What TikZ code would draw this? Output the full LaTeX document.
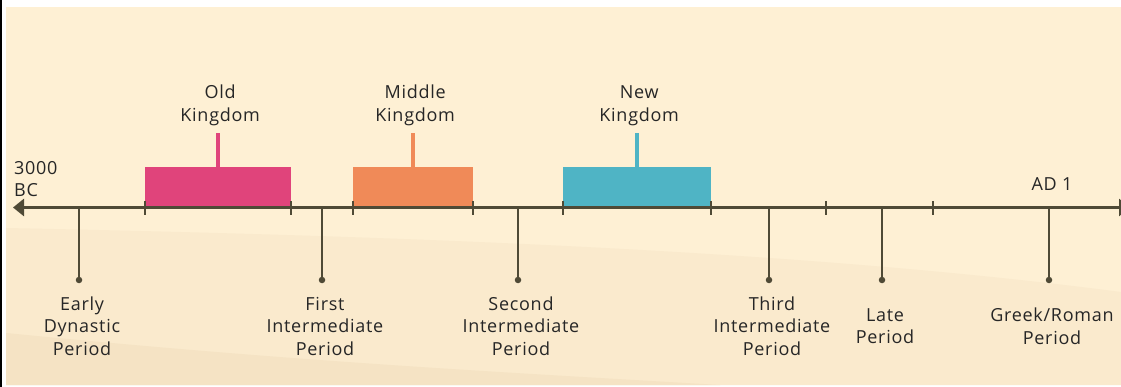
\documentclass[tikz,border=0pt]{standalone}
\usepackage{fontspec}
\setmainfont{Open Sans}[LetterSpace=4]
\usetikzlibrary{positioning,arrows.meta}
\definecolor{paper}{HTML}{FEF0D4}
\definecolor{sand}{HTML}{FAEACD}
\definecolor{dune}{HTML}{F5E3C4}
\definecolor{axisbrown}{HTML}{4F4A36}
\definecolor{oldpink}{HTML}{E0447B}
\definecolor{midorange}{HTML}{F08A58}
\definecolor{newblue}{HTML}{4FB4C5}
\tikzset{
  txt/.style={inner sep=0pt,font=\fontsize{18}{22.5}\selectfont,text=black!85},
  eratext/.style={txt,align=center,xshift=2pt},
  periodtext/.style={txt,align=center,xshift=3pt},
  erabox/.style={minimum height=40pt,anchor=south west,inner sep=0pt},
  stem/.style={line width=4pt},
  axisline/.style={draw=axisbrown,line width=3pt,{Triangle[length=11pt,width=17pt]}-{Triangle[length=11pt,width=17pt]}},
  tickmark/.style={draw=axisbrown,line width=1.5pt},
  drop/.style={draw=axisbrown,line width=2pt},
  dot/.style={circle,fill=axisbrown,minimum size=6.5pt,inner sep=0pt}
}
\begin{document}
\begin{tikzpicture}[x=1pt,y=-1pt,node distance=46pt,on grid]
  \useasboundingbox (0,0) rectangle (1121,387);
  % background
  \fill[white] (0,0) rectangle (1121,387);
  \fill[black] (0,0) rectangle (2,387);
  \fill[paper] (6,7) rectangle (1121,385);
  \fill[sand] (6,228) .. controls (400,236) and (800,250) .. (1121,292) -- (1121,385) -- (6,385) -- cycle;
  \fill[dune] (6,333) .. controls (300,362) and (500,372) .. (720,385) -- (6,385) -- cycle;

  % kingdoms
  \node[erabox,fill=oldpink,minimum width=146pt] (old) at (145,207) {};
  \node[erabox,fill=midorange,minimum width=120pt] (middle) at (353,207) {};
  \node[erabox,fill=newblue,minimum width=148pt] (new) at (563,207) {};
  \coordinate[above=34pt of old.north] (oldtop);
  \coordinate[above=34pt of middle.north] (middletop);
  \coordinate[above=34pt of new.north] (newtop);
  \draw[stem,oldpink] (old.north) -- (oldtop);
  \draw[stem,midorange] (middle.north) -- (middletop);
  \draw[stem,newblue] (new.north) -- (newtop);
  \node[eratext,above=7pt of oldtop] (oldlab) {Old\\Kingdom};
  \node[eratext,above=7pt of middletop] (middlelab) {Middle\\Kingdom};
  \node[eratext,above=7pt of newtop] (newlab) {New\\Kingdom};

  % axis
  \coordinate (bc) at (13,207.5);
  \coordinate (ad) at (1130,207.5);
  \draw[axisline] (bc) -- (ad);
  \foreach \x in {145,291,353,473,563,711,826,933}
    \draw[tickmark] (\x,201) -- (\x,215);
  \node[txt,anchor=base west,align=left] (bclab) at (14,197) {3000\\BC};
  \node[txt,anchor=base] (adlab) at (1052,191) {AD 1};

  % periods
  \node[dot] (earlydot) at (79,280) {};
  \node[dot] (firstdot) at (322,280) {};
  \node[dot] (seconddot) at (518,280) {};
  \node[dot] (thirddot) at (769,280) {};
  \node[dot] (latedot) at (882,280) {};
  \node[dot] (greekdot) at (1049,280) {};
  \coordinate (earlyax) at (79,207.5);
  \coordinate (firstax) at (322,207.5);
  \coordinate (secondax) at (518,207.5);
  \coordinate (thirdax) at (769,207.5);
  \coordinate (lateax) at (882,207.5);
  \coordinate (greekax) at (1049,207.5);
  \path[drop]
  (earlyax) edge (earlydot)
  (firstax) edge (firstdot)
  (secondax) edge (seconddot)
  (thirdax) edge (thirddot)
  (lateax) edge (latedot)
  (greekax) edge (greekdot)
  ;
  \node[periodtext,below=of earlydot] (early) {Early\\Dynastic\\Period};
  \node[periodtext,below=of firstdot] (first) {First\\Intermediate\\Period};
  \node[periodtext,below=of seconddot] (second) {Second\\Intermediate\\Period};
  \node[periodtext,below=of thirddot] (third) {Third\\Intermediate\\Period};
  \node[periodtext,below=of latedot] (late) {Late\\Period};
  \node[periodtext,below=of greekdot] (greek) {Greek/Roman\\Period};
\end{tikzpicture}
\end{document}
